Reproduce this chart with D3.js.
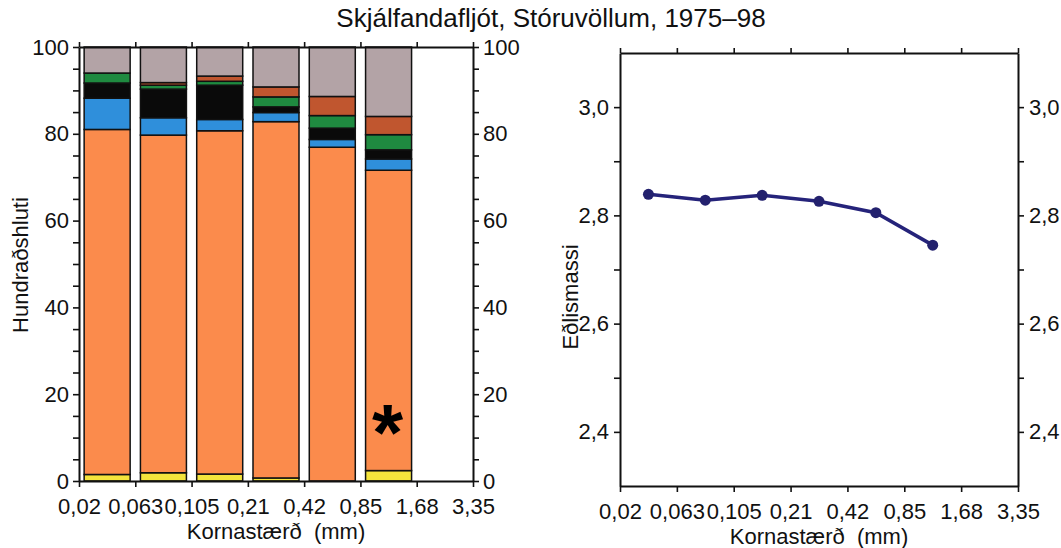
<!DOCTYPE html>
<html>
<head>
<meta charset="utf-8">
<script src="https://cdn.jsdelivr.net/npm/d3@7"></script>
<style>
  body { margin: 0; background: #fff; }
  svg { display: block; font-family: "Liberation Sans", Arial, sans-serif; }
  .axis .domain { stroke: #111; stroke-width: 2; }
  .axis line { stroke: #111; stroke-width: 1.6; }
  .axis text { font-size: 22px; fill: #111; font-family: "Liberation Sans", Arial, sans-serif; }
</style>
</head>
<body>
<svg id="chart" width="1061" height="548"></svg>
<script>
// Grain-size class boundaries (mm), shared by both panels
const sizeTicks = ["0,02", "0,063", "0,105", "0,21", "0,42", "0,85", "1,68", "3,35"];
// Size classes that carry a sample (the 1,68–3,35 class is empty)
const sizeClasses = ["0,02–0,063", "0,063–0,105", "0,105–0,21", "0,21–0,42", "0,42–0,85", "0,85–1,68"];

// Composition of each size class, percent, stacked bottom to top
const componentKeys = ["gulur", "appelsinugulur", "blar", "svartur", "graenn", "brunn", "grar"];
const gulur          = [1.5, 1.9, 1.6, 0.7, 0.0, 2.4];
const appelsinugulur = [79.5, 77.8, 79.1, 82.1, 76.9, 69.2];
const blar           = [7.2, 4.0, 2.6, 2.1, 1.8, 2.6];
const svartur        = [3.5, 6.6, 7.9, 1.3, 2.6, 2.1];
const graenn         = [2.3, 0.9, 0.9, 2.3, 2.9, 3.5];
const brunn          = [0.0, 0.6, 1.2, 2.3, 4.4, 4.2];
const grar           = [6.0, 8.2, 6.7, 9.2, 11.4, 16.0];
const componentColors = ["#f4e43c", "#fb8b4c", "#2f8fdb", "#0a0a0a", "#1f8a40", "#c0562f", "#b3a3a6"];

// Density (Eðlismassi) per size class
const density = [2.839, 2.828, 2.837, 2.826, 2.805, 2.745];

const percentTicks = d3.range(0, 101, 5);
const densityTicks = [2.4, 2.5, 2.6, 2.7, 2.8, 2.9, 3.0];
const markedClass = "0,85–1,68";

const svg = d3.select("#chart");

svg.append("text")
  .attr("x", 551).attr("y", 27)
  .attr("text-anchor", "middle")
  .attr("font-size", 26)
  .attr("fill", "#111")
  .text("Skjálfandafljót, Stóruvöllum, 1975–98");

// ---------- Left panel: stacked composition bars ----------
const L = { left: 79, right: 473, top: 47, bottom: 481 };
const xL = d3.scalePoint().domain(sizeTicks).range([L.left, L.right]);
const yL = d3.scaleLinear().domain([0, 100]).range([L.bottom, L.top]);

const rows = sizeClasses.map((c, i) => ({
  cls: c,
  gulur: gulur[i], appelsinugulur: appelsinugulur[i], blar: blar[i], svartur: svartur[i],
  graenn: graenn[i], brunn: brunn[i], grar: grar[i]
}));
const stacked = d3.stack().keys(componentKeys)(rows);
const barWidth = 46;
const classMid = i => (xL(sizeTicks[i]) + xL(sizeTicks[i + 1])) / 2;

const gBars = svg.append("g");
stacked.forEach((layer, k) => {
  gBars.selectAll(null)
    .data(layer.map((d, i) => ({ d, i })).filter(o => o.d[1] - o.d[0] > 0))
    .join("rect")
    .attr("x", o => classMid(o.i) - barWidth / 2)
    .attr("width", barWidth)
    .attr("y", o => yL(o.d[1]))
    .attr("height", o => yL(o.d[0]) - yL(o.d[1]))
    .attr("fill", componentColors[k])
    .attr("stroke", "#111")
    .attr("stroke-width", 1.5);
});

// asterisk on the coarsest sampled class
const mi = sizeClasses.indexOf(markedClass);
svg.append("text")
  .attr("x", classMid(mi) - 1)
  .attr("y", yL(16) + 48)
  .attr("text-anchor", "middle")
  .attr("font-size", 80)
  .attr("font-weight", "bold")
  .attr("fill", "#000")
  .text("*");

const pctFmt = d => (d % 20 === 0 ? d : "");
svg.append("g").attr("class", "axis")
  .attr("transform", `translate(${L.left},0)`)
  .call(d3.axisLeft(yL).tickValues(percentTicks).tickFormat(pctFmt).tickSize(6).tickSizeOuter(0).tickPadding(4));
svg.append("g").attr("class", "axis")
  .attr("transform", `translate(${L.right},0)`)
  .call(d3.axisRight(yL).tickValues(percentTicks).tickFormat(pctFmt).tickSize(6).tickSizeOuter(0).tickPadding(4));
svg.append("g").attr("class", "axis")
  .attr("transform", `translate(0,${L.bottom})`)
  .call(d3.axisBottom(xL).tickSize(6).tickSizeOuter(0).tickPadding(11));
svg.append("g").attr("class", "axis")
  .attr("transform", `translate(0,${L.top})`)
  .call(d3.axisTop(xL).tickFormat("").tickSize(5).tickSizeOuter(0));

svg.append("text")
  .attr("transform", `translate(28,265) rotate(-90)`)
  .attr("text-anchor", "middle").attr("font-size", 22).attr("fill", "#111")
  .text("Hundraðshluti");
svg.append("text")
  .attr("x", (L.left + L.right) / 2).attr("y", 539)
  .attr("text-anchor", "middle").attr("font-size", 22).attr("fill", "#111")
  .attr("xml:space", "preserve")
  .text("Kornastærð  (mm)");

// ---------- Right panel: density per size class ----------
const R = { left: 620, right: 1018, top: 53, bottom: 486 };
const xR = d3.scalePoint().domain(sizeTicks).range([R.left, R.right]);
const yR = d3.scaleLinear().domain([2.3, 3.1]).range([R.bottom, R.top]);
const midR = i => (xR(sizeTicks[i]) + xR(sizeTicks[i + 1])) / 2;
const densFmt = d => (Math.round(d * 10) % 2 === 0 ? d3.format(".1f")(d).replace(".", ",") : "");

svg.append("g").attr("class", "axis")
  .attr("transform", `translate(${R.left},0)`)
  .call(d3.axisLeft(yR).tickValues(densityTicks).tickFormat(densFmt).tickSize(6).tickSizeOuter(0).tickPadding(5));
svg.append("g").attr("class", "axis")
  .attr("transform", `translate(${R.right},0)`)
  .call(d3.axisRight(yR).tickValues(densityTicks).tickFormat(densFmt).tickSize(6).tickSizeOuter(0).tickPadding(5));
svg.append("g").attr("class", "axis")
  .attr("transform", `translate(0,${R.bottom})`)
  .call(d3.axisBottom(xR).tickSize(6).tickSizeOuter(0).tickPadding(11));
svg.append("g").attr("class", "axis")
  .attr("transform", `translate(0,${R.top})`)
  .call(d3.axisTop(xR).tickFormat("").tickSize(5).tickSizeOuter(0));

const line = d3.line().x((d, i) => midR(i)).y(d => yR(d));
svg.append("path")
  .datum(density)
  .attr("d", line)
  .attr("fill", "none")
  .attr("stroke", "#25237a")
  .attr("stroke-width", 3.5);
svg.append("g").selectAll("circle")
  .data(density)
  .join("circle")
  .attr("cx", (d, i) => midR(i))
  .attr("cy", d => yR(d))
  .attr("r", 5.5)
  .attr("fill", "#23216e");

svg.append("text")
  .attr("transform", `translate(578,297) rotate(-90)`)
  .attr("text-anchor", "middle").attr("font-size", 22).attr("fill", "#111")
  .text("Eðlismassi");
svg.append("text")
  .attr("x", (R.left + R.right) / 2).attr("y", 544)
  .attr("text-anchor", "middle").attr("font-size", 22).attr("fill", "#111")
  .attr("xml:space", "preserve")
  .text("Kornastærð  (mm)");
</script>
</body>
</html>
